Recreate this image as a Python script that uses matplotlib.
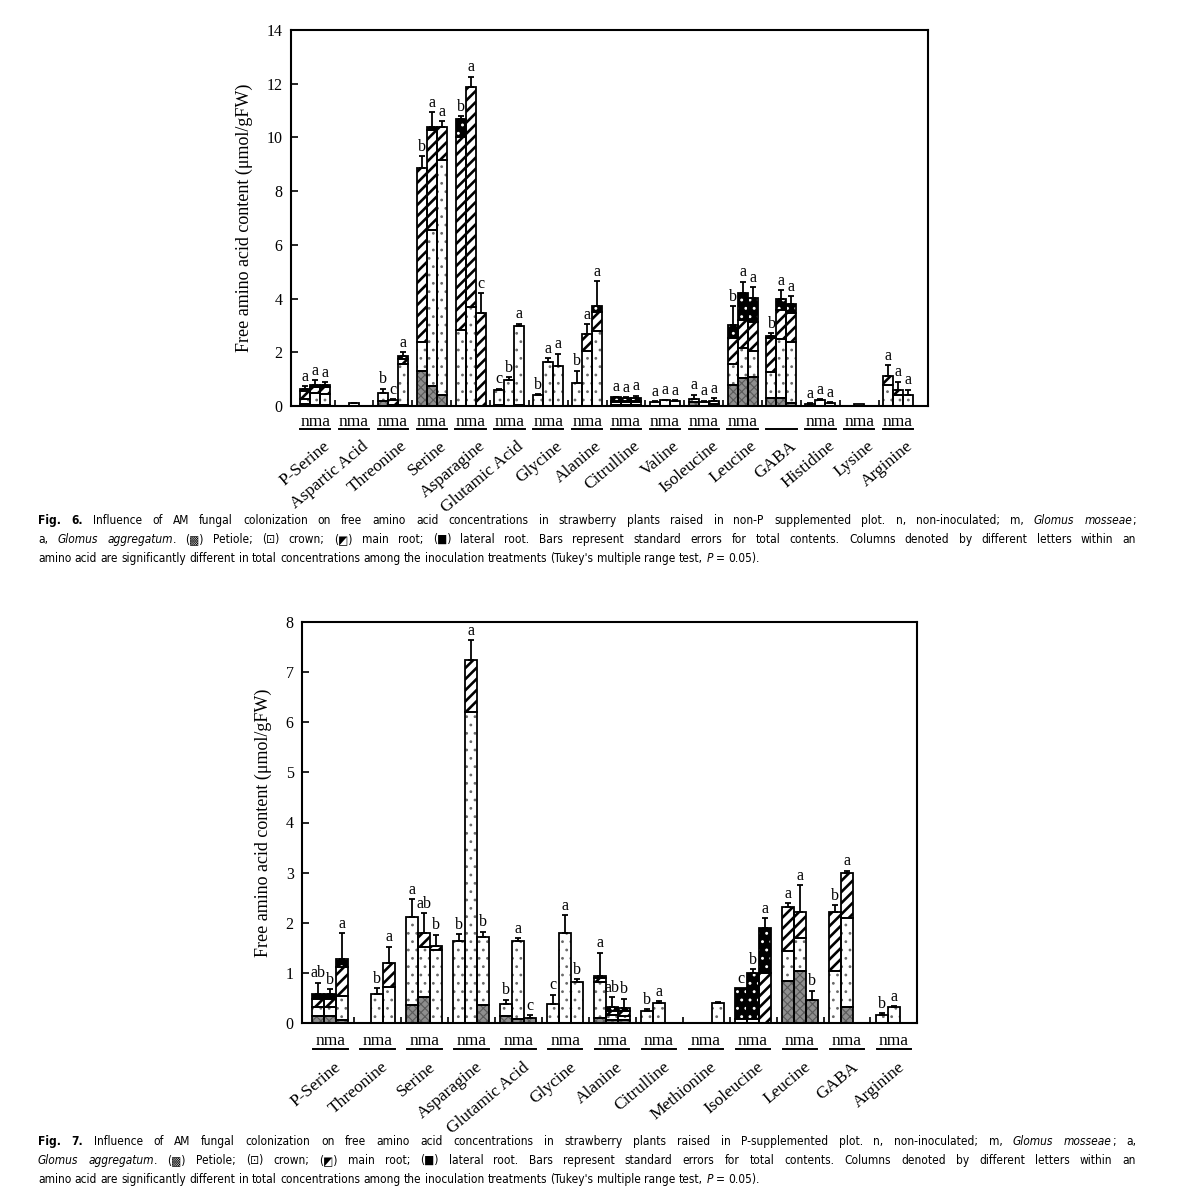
import matplotlib
matplotlib.use('Agg')
import matplotlib.pyplot as plt
import numpy as np
from matplotlib.transforms import blended_transform_factory
from matplotlib import font_manager as fm

plt.rcParams['font.family'] = ['Liberation Serif', 'DejaVu Serif']
plt.rcParams['hatch.linewidth'] = 1.0

# ---------------- Fig. 6 data (non-P plot) ----------------
f6_groups = ['P-Serine', 'Aspartic Acid', 'Threonine', 'Serine', 'Asparagine', 'Glutamic Acid',
             'Glycine', 'Alanine', 'Citrulline', 'Valine', 'Isoleucine', 'Leucine', 'GABA',
             'Histidine', 'Lysine', 'Arginine']
f6_nma = ['nma'] * 12 + [''] + ['nma'] * 3

f6_n_petiole = [0.08, 0, 0.20, 1.32, 0, 0.05, 0, 0, 0.05, 0, 0.15, 0.80, 0.29, 0, 0, 0]
f6_n_crown = [0.17, 0, 0.30, 1.08, 2.83, 0.55, 0.40, 0.87, 0.10, 0.15, 0.12, 0.75, 0.99, 0.08, 0, 0.78]
f6_n_main = [0.30, 0, 0, 6.45, 7.20, 0, 0, 0, 0.05, 0, 0, 0.97, 1.24, 0, 0, 0.34]
f6_n_lateral = [0.10, 0, 0, 0, 0.66, 0, 0, 0, 0.12, 0, 0, 0.50, 0.08, 0, 0, 0]
f6_n_err = [0.10, 0, 0.15, 0.45, 0.10, 0.05, 0.05, 0.45, 0.03, 0.02, 0.15, 0.70, 0.10, 0.03, 0, 0.40]
f6_n_letter = ['a', '', 'b', 'b', 'b', 'c', 'b', 'b', 'a', 'a', 'a', 'b', 'b', 'a', '', 'a']

f6_m_petiole = [0.05, 0, 0.03, 0.76, 0, 0, 0, 0, 0.05, 0, 0, 1.03, 0.28, 0, 0, 0]
f6_m_crown = [0.45, 0.10, 0, 5.79, 3.70, 0.98, 1.65, 2.05, 0.10, 0.22, 0.15, 1.14, 2.20, 0.22, 0.08, 0.40]
f6_m_main = [0.20, 0, 0.19, 3.73, 8.19, 0, 0, 0.62, 0.05, 0, 0, 1.03, 1.09, 0, 0, 0.20]
f6_m_lateral = [0.10, 0, 0, 0.12, 0, 0, 0, 0, 0.10, 0, 0, 1.00, 0.40, 0, 0, 0]
f6_m_err = [0.15, 0.03, 0.03, 0.55, 0.37, 0.10, 0.12, 0.38, 0.03, 0.02, 0.05, 0.43, 0.35, 0.03, 0, 0.30]
f6_m_letter = ['a', '', 'c', 'a', 'a', 'b', 'a', 'a', 'a', 'a', 'a', 'a', 'a', 'a', '', 'a']

f6_a_petiole = [0.05, 0, 0.05, 0.41, 0, 0.05, 0, 0, 0.05, 0, 0, 1.09, 0.10, 0, 0, 0]
f6_a_crown = [0.40, 0, 1.50, 8.75, 0, 2.93, 1.50, 2.80, 0.10, 0.20, 0.08, 0.96, 2.28, 0.12, 0, 0.41]
f6_a_main = [0.25, 0, 0.20, 1.24, 3.45, 0, 0, 0.71, 0.05, 0, 0.12, 1.09, 1.07, 0, 0, 0]
f6_a_lateral = [0.10, 0, 0.10, 0, 0, 0, 0, 0.23, 0.10, 0, 0, 0.89, 0.35, 0, 0, 0]
f6_a_err = [0.08, 0, 0.15, 0.20, 0.75, 0.08, 0.45, 0.90, 0.08, 0.02, 0.10, 0.40, 0.30, 0.03, 0, 0.20]
f6_a_letter = ['a', '', 'a', 'a', 'c', 'a', 'a', 'a', 'a', 'a', 'a', 'a', 'a', 'a', '', 'a']

# ---------------- Fig. 7 data (P-supplemented plot) ----------------
f7_groups = ['P-Serine', 'Threonine', 'Serine', 'Asparagine', 'Glutamic Acid', 'Glycine',
             'Alanine', 'Citrulline', 'Methionine', 'Isoleucine', 'Leucine', 'GABA', 'Arginine']
f7_nma = ['nma'] * 13

f7_n_petiole = [0.13, 0, 0.36, 0, 0.13, 0, 0.09, 0, 0, 0, 0.84, 0, 0]
f7_n_crown = [0.18, 0, 1.76, 1.64, 0.25, 0.38, 0.73, 0.23, 0, 0.07, 0.60, 1.04, 0.16]
f7_n_main = [0.16, 0, 0, 0, 0, 0, 0.07, 0, 0, 0, 0.88, 1.18, 0]
f7_n_lateral = [0.10, 0, 0, 0, 0, 0, 0.05, 0, 0, 0.62, 0, 0, 0]
f7_n_err = [0.23, 0, 0.35, 0.13, 0.08, 0.18, 0.46, 0.04, 0, 0, 0.07, 0.13, 0.03]
f7_n_letter = ['ab', '', 'a', 'b', 'b', 'c', 'a', 'b', '', 'c', 'a', 'b', 'b']

f7_m_petiole = [0.13, 0, 0.51, 0, 0.08, 0, 0.05, 0, 0, 0, 1.04, 0.31, 0]
f7_m_crown = [0.18, 0.57, 1.01, 6.21, 1.56, 1.80, 0.10, 0.39, 0, 0.07, 0.65, 1.78, 0.31]
f7_m_main = [0.16, 0, 0.27, 1.03, 0, 0, 0.08, 0, 0, 0, 0.53, 0.90, 0]
f7_m_lateral = [0.10, 0, 0, 0, 0, 0, 0.08, 0, 0, 0.92, 0, 0, 0]
f7_m_err = [0.10, 0.12, 0.40, 0.40, 0.05, 0.35, 0.20, 0.04, 0, 0.08, 0.53, 0.05, 0.02]
f7_m_letter = ['b', 'b', 'ab', 'a', 'a', 'a', 'ab', 'a', '', 'b', 'a', 'a', 'a']

f7_a_petiole = [0.05, 0, 0, 0.36, 0.09, 0, 0.05, 0, 0, 0, 0.46, 0, 0]
f7_a_crown = [0.49, 0.71, 1.45, 1.36, 0, 0.81, 0.08, 0, 0.39, 0, 0, 0, 0]
f7_a_main = [0.58, 0.49, 0.08, 0, 0, 0, 0.10, 0, 0, 1.00, 0, 0, 0]
f7_a_lateral = [0.15, 0, 0, 0, 0, 0, 0.06, 0, 0, 0.90, 0, 0, 0]
f7_a_err = [0.52, 0.32, 0.23, 0.10, 0.06, 0.06, 0.19, 0, 0.03, 0.19, 0.18, 0, 0]
f7_a_letter = ['a', 'a', 'b', 'b', 'c', 'b', 'b', '', '', 'a', 'b', '', '']

FIG6 = {
    'n': ([f6_n_petiole, f6_n_crown, f6_n_main, f6_n_lateral], f6_n_err, f6_n_letter),
    'm': ([f6_m_petiole, f6_m_crown, f6_m_main, f6_m_lateral], f6_m_err, f6_m_letter),
    'a': ([f6_a_petiole, f6_a_crown, f6_a_main, f6_a_lateral], f6_a_err, f6_a_letter),
}
FIG7 = {
    'n': ([f7_n_petiole, f7_n_crown, f7_n_main, f7_n_lateral], f7_n_err, f7_n_letter),
    'm': ([f7_m_petiole, f7_m_crown, f7_m_main, f7_m_lateral], f7_m_err, f7_m_letter),
    'a': ([f7_a_petiole, f7_a_crown, f7_a_main, f7_a_lateral], f7_a_err, f7_a_letter),
}

# segment styles: petiole, crown, main root, lateral root
SEG_STYLES = [
    dict(face='#8e8e8e', hatch='xxxx', hc='#5a5a5a', hlw=0.8),
    dict(face='white', hatch='..', hc='#6a6a6a', hlw=0.8),
    dict(face='white', hatch='///', hc='black', hlw=1.9),
    dict(face='black', hatch='..', hc='white', hlw=0.9),
]

W, H = 1177, 1200
fig = plt.figure(figsize=(W / 100, H / 100), dpi=100)
ax1 = fig.add_axes([291 / W, 1 - 406 / H, 637 / W, 376 / H])
ax2 = fig.add_axes([302 / W, 1 - 1023 / H, 615 / W, 401 / H])


def draw_panel(ax, groups, nma, data, width, ymax, ystep, xlim, letter_pad,
               nma_y, ul_y, ul_half, lab_dx, lab_y, fs_nma, fs_lab):
    ng = len(groups)
    base = np.arange(ng, dtype=float)
    for t_idx, tr in enumerate(['n', 'm', 'a']):
        segs, err, letters = data[tr]
        x = base + (t_idx - 1) * width
        bottom = np.zeros(ng)
        for seg_vals, st in zip(segs, SEG_STYLES):
            vals = np.array(seg_vals, dtype=float)
            mask = vals > 0
            if mask.any():
                bars = ax.bar(x[mask], vals[mask], width, bottom=bottom[mask],
                              color=st['face'], hatch=st['hatch'], edgecolor=st['hc'],
                              linewidth=0, zorder=2)
                for p in bars:
                    if hasattr(p, 'set_hatch_linewidth'):
                        p.set_hatch_linewidth(st['hlw'])
                ax.bar(x[mask], vals[mask], width, bottom=bottom[mask], fill=False,
                       edgecolor='black', linewidth=1.3, zorder=3)
            bottom += vals
        err = np.array(err, dtype=float)
        em = (bottom > 0) & (err > 0)
        ax.errorbar(x[em], bottom[em], yerr=[np.zeros(em.sum()), err[em]], fmt='none',
                    ecolor='black', elinewidth=1.3, capsize=2.5, capthick=1.3, zorder=4)
        for i in range(ng):
            if letters[i]:
                ax.text(x[i], bottom[i] + err[i] + letter_pad, letters[i], ha='center',
                        va='bottom', fontsize=11.5, zorder=5)
    ax.set_xlim(*xlim)
    ax.set_ylim(0, ymax)
    ax.set_yticks(np.arange(0, ymax + 0.001, ystep))
    ax.set_yticklabels([str(int(v)) for v in np.arange(0, ymax + 0.001, ystep)], fontsize=11.5)
    ax.set_xticks([])
    ax.set_xticks(base[:-1] + 0.5, minor=True)
    ax.tick_params(axis='x', which='minor', direction='in', length=4, width=1.2)
    ax.tick_params(axis='y', direction='in', length=5, width=1.2, pad=6)
    for s in ax.spines.values():
        s.set_linewidth(1.5)
    ax.set_ylabel('Free amino acid content (μmol/gFW)', fontsize=13, labelpad=10)
    tr = blended_transform_factory(ax.transData, ax.transAxes)
    for i in range(ng):
        if nma[i]:
            ax.text(base[i], nma_y, nma[i], transform=tr, ha='center', va='center',
                    fontsize=fs_nma)
        ax.plot([base[i] - ul_half, base[i] + ul_half], [ul_y, ul_y], transform=tr,
                color='black', lw=1.4, clip_on=False)
        ax.text(base[i] + lab_dx, lab_y, groups[i], transform=tr, rotation=40,
                ha='right', va='top', fontsize=fs_lab)


draw_panel(ax1, f6_groups, f6_nma, FIG6, width=0.257, ymax=14, ystep=2,
           xlim=(-0.62, 15.77), letter_pad=0.05, nma_y=-0.042, ul_y=-0.062, ul_half=0.39,
           lab_dx=0.45, lab_y=-0.085, fs_nma=12.5, fs_lab=12.5)
draw_panel(ax2, f7_groups, f7_nma, FIG7, width=0.255, ymax=8, ystep=1,
           xlim=(-0.6, 12.49), letter_pad=0.03, nma_y=-0.045, ul_y=-0.066, ul_half=0.37,
           lab_dx=0.3, lab_y=-0.09, fs_nma=12.5, fs_lab=12.5)

# ---------------- Captions ----------------
entries = fm.fontManager.ttflist
names = {f.name for f in entries}
CAP_STRETCH = 'normal'
if 'Liberation Sans Narrow' in names:
    CAP_FAMILY = ['Liberation Sans Narrow', 'DejaVu Sans']
elif any(f.name == 'DejaVu Sans' and str(f.stretch) in ('condensed', 'semi-condensed') for f in entries):
    CAP_FAMILY = ['DejaVu Sans']
    CAP_STRETCH = 'condensed'
elif any('Condensed' in n for n in names):
    CAP_FAMILY = [sorted(n for n in names if 'Condensed' in n)[0], 'DejaVu Sans']
else:
    CAP_FAMILY = ['Liberation Sans', 'DejaVu Sans']

renderer = fig.canvas.get_renderer()


def build_words(segs):
    words, cur = [], []
    for text, style in segs:
        parts = text.split(' ')
        for k, p in enumerate(parts):
            if k > 0 and cur:
                words.append(cur)
                cur = []
            if p:
                cur.append((p, style))
    if cur:
        words.append(cur)
    return words


def make_text(s, style, fs):
    return fig.text(0, 0, s, fontsize=fs, family=CAP_FAMILY, fontstretch=CAP_STRETCH,
                    fontweight='bold' if style == 'bold' else 'normal',
                    fontstyle='italic' if style == 'italic' else 'normal',
                    ha='left', va='baseline', transform=fig.transFigure)


def space_width(fs):
    t1 = make_text('a a', 'normal', fs)
    t2 = make_text('aa', 'normal', fs)
    w = t1.get_window_extent(renderer).width - t2.get_window_extent(renderer).width
    t1.remove(); t2.remove()
    return w


def natural_width(segs, fs):
    words = build_words(segs)
    tot = 0
    for w in words:
        for s, st in w:
            t = make_text(s, st, fs)
            tot += t.get_window_extent(renderer).width
            t.remove()
    return tot + (len(words) - 1) * space_width(fs)


def rich_line(segs, x0, y_img, fs, target=None):
    words = build_words(segs)
    placed = []
    widths = []
    for w in words:
        pieces = []
        ww = 0
        for s, st in w:
            t = make_text(s, st, fs)
            pw = t.get_window_extent(renderer).width
            pieces.append((t, pw))
            ww += pw
        placed.append(pieces)
        widths.append(ww)
    if target is not None and len(words) > 1:
        sp = (target - sum(widths)) / (len(words) - 1)
    else:
        sp = space_width(fs)
    x = x0
    yf = 1 - y_img / H
    for pieces, ww in zip(placed, widths):
        xx = x
        for t, pw in pieces:
            t.set_position((xx / W, yf))
            xx += pw
        x += ww + sp


L3 = [("amino acid are significantly different in total concentrations among the inoculation "
       "treatments (Tukey's multiple range test, ", 'normal'), ("P", 'italic'), (" = 0.05).", 'normal')]

legend_txt = ". (▩) Petiole; (⊡) crown; (◩) main root; (■) lateral root. Bars represent standard errors for total contents. Columns denoted by different letters within an"

F6L1 = [("Fig. 6.", 'bold'), (" Influence of AM fungal colonization on free amino acid concentrations in "
         "strawberry plants raised in non-P supplemented plot. n, non-inoculated; m, ", 'normal'),
        ("Glomus mosseae", 'italic'), (";", 'normal')]
F6L2 = [("a, ", 'normal'), ("Glomus aggregatum", 'italic'), (legend_txt, 'normal')]
F7L1 = [("Fig. 7.", 'bold'), (" Influence of AM fungal colonization on free amino acid concentrations in "
         "strawberry plants raised in P-supplemented plot. n, non-inoculated; m, ", 'normal'),
        ("Glomus mosseae", 'italic'), ("; a,", 'normal')]
F7L2 = [("Glomus aggregatum", 'italic'), (legend_txt, 'normal')]

X0, X1 = 38, 1136
base_fs = 10.0
w_l1 = max(natural_width(F6L1, base_fs), natural_width(F7L2, base_fs), natural_width(F6L2, base_fs))
w_l3 = natural_width(L3, base_fs)
cap_fs = min(base_fs * 718.0 / w_l3, base_fs * (X1 - X0 - 12) / w_l1, 11.5)

rich_line(F6L1, X0, 524, cap_fs, target=X1 - X0)
rich_line(F6L2, X0, 543, cap_fs, target=X1 - X0)
rich_line(L3, X0, 562, cap_fs)
rich_line(F7L1, X0, 1145, cap_fs, target=X1 - X0)
rich_line(F7L2, X0, 1164, cap_fs, target=X1 - X0)
rich_line(L3, X0, 1183, cap_fs)

fig.savefig('out.png', dpi=100, facecolor='white')
